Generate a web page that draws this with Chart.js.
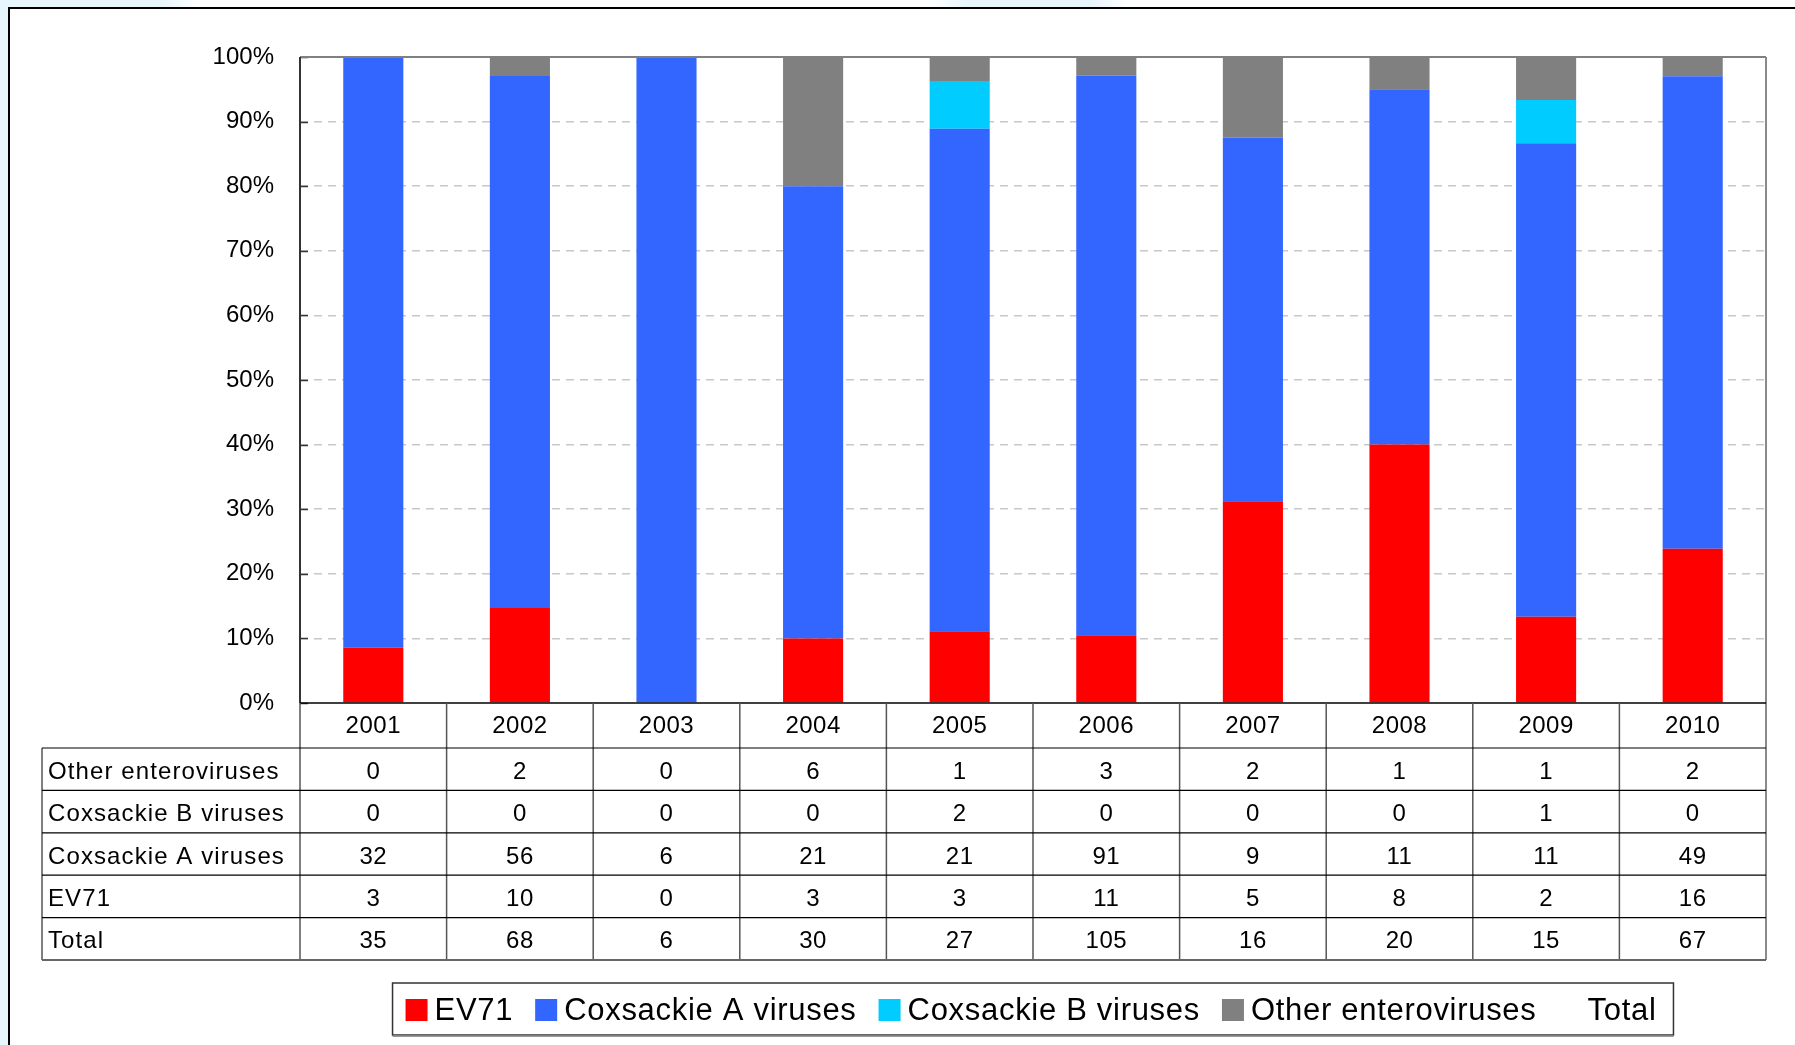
<!DOCTYPE html>
<html>
<head>
<meta charset="utf-8">
<script src="https://cdn.jsdelivr.net/npm/chart.js@4.4.1/dist/chart.umd.min.js"></script>
<style>
  html, body { margin: 0; padding: 0; }
  body { width: 1795px; height: 1045px; overflow: hidden; position: relative; background: #e7f5fc; }
  #topband {
    position: absolute; left: 0; top: 0; width: 1795px; height: 8px;
    background: linear-gradient(90deg, #e7f5fc 0, #e7f5fc 160px, #fff 200px, #fff 930px,
      #e7f5fc 970px, #e7f5fc 1090px, #fff 1130px);
  }
  #frame {
    position: absolute; left: 8px; top: 7px; width: 1800px; height: 1050px;
    background: #fff; border-left: 2px solid #000; border-top: 2px solid #000;
  }
  #wrap { position: absolute; left: 0; top: 0; width: 1795px; height: 1045px; }
</style>
</head>
<body>
<div id="topband"></div>
<div id="frame"></div>
<div id="wrap"><canvas id="virus-canvas" width="1795" height="1045"></canvas></div>
<script>
const FONT = "'Liberation Sans', Arial, sans-serif"

// Isolates per year
const years = ["2001", "2002", "2003", "2004", "2005", "2006", "2007", "2008", "2009", "2010"]
const ev71 = [3, 10, 0, 3, 3, 11, 5, 8, 2, 16]
const coxsackieA = [32, 56, 6, 21, 21, 91, 9, 11, 11, 49]
const coxsackieB = [0, 0, 0, 0, 2, 0, 0, 0, 1, 0]
const otherEntero = [0, 2, 0, 6, 1, 3, 2, 1, 1, 2]
const totals = [35, 68, 6, 30, 27, 105, 16, 20, 15, 67]

// share of the year's total, in percent
const share = (arr) => arr.map((v, i) => (totals[i] ? (v / totals[i]) * 100 : 0))

// rows of the table under the axis, top to bottom
const tableRows = [
  { label: "Other enteroviruses", values: otherEntero },
  { label: "Coxsackie B viruses", values: coxsackieB },
  { label: "Coxsackie A viruses", values: coxsackieA },
  { label: "EV71", values: ev71 },
  { label: "Total", values: totals },
]

const HEAD_H = 45
const ROW_H = 42.4
const TABLE_LEFT = 42

const dataTable = {
  id: "dataTable",
  afterDraw(chart) {
    const { ctx, chartArea: a, scales: { x, y } } = chart
    const colW = x.getPixelForValue(1) - x.getPixelForValue(0)
    const headBottom = a.bottom + HEAD_H
    const tableBottom = headBottom + ROW_H * tableRows.length

    ctx.save()

    // small inward ticks on the value axis
    ctx.strokeStyle = "#333"
    ctx.lineWidth = 1.5
    for (let v = 0; v <= 100; v += 10) {
      const py = Math.round(y.getPixelForValue(v)) + 0.5
      ctx.beginPath()
      ctx.moveTo(a.left, py)
      ctx.lineTo(a.left + 8, py)
      ctx.stroke()
    }

    // plot frame
    ctx.lineWidth = 2
    ctx.strokeStyle = "#808080"
    ctx.beginPath()
    ctx.moveTo(a.left, a.top)
    ctx.lineTo(a.right, a.top)
    ctx.stroke()
    ctx.strokeStyle = "#8a8a8a"
    ctx.beginPath()
    ctx.moveTo(a.right, a.top)
    ctx.lineTo(a.right, tableBottom)
    ctx.stroke()
    ctx.strokeStyle = "#333"
    ctx.beginPath()
    ctx.moveTo(a.left, a.top)
    ctx.lineTo(a.left, a.bottom)
    ctx.stroke()
    ctx.strokeStyle = "#000"
    ctx.lineWidth = 1.5
    ctx.beginPath()
    ctx.moveTo(a.left, a.bottom)
    ctx.lineTo(a.right, a.bottom)
    ctx.stroke()

    // table grid
    ctx.strokeStyle = "#555"
    ctx.lineWidth = 1.5
    for (let i = 0; i < years.length; i++) {
      const lx = x.getPixelForValue(i) - colW / 2
      ctx.beginPath()
      ctx.moveTo(lx, a.bottom)
      ctx.lineTo(lx, tableBottom)
      ctx.stroke()
    }
    ctx.beginPath()
    ctx.moveTo(TABLE_LEFT, headBottom)
    ctx.lineTo(TABLE_LEFT, tableBottom)
    ctx.stroke()
    ctx.strokeStyle = "#000"
    ctx.lineWidth = 1.2
    for (let r = 0; r < tableRows.length; r++) {
      const ly = headBottom + r * ROW_H
      ctx.beginPath()
      ctx.moveTo(TABLE_LEFT, ly)
      ctx.lineTo(a.right, ly)
      ctx.stroke()
    }
    ctx.strokeStyle = "#666"
    ctx.lineWidth = 2
    ctx.beginPath()
    ctx.moveTo(TABLE_LEFT, tableBottom)
    ctx.lineTo(a.right, tableBottom)
    ctx.stroke()

    // header and cells
    ctx.fillStyle = "#000"
    ctx.textBaseline = "middle"
    ctx.font = "24px " + FONT
    ctx.letterSpacing = "0.5px"
    ctx.textAlign = "center"
    years.forEach((yr, i) => {
      ctx.fillText(yr, x.getPixelForValue(i), a.bottom + HEAD_H / 2 + 1)
    })
    tableRows.forEach((row, r) => {
      const cy = headBottom + r * ROW_H + ROW_H / 2 + 3
      row.values.forEach((v, i) => ctx.fillText(String(v), x.getPixelForValue(i), cy))
    })
    ctx.textAlign = "left"
    ctx.letterSpacing = "1.1px"
    tableRows.forEach((row, r) => {
      ctx.fillText(row.label, TABLE_LEFT + 6, headBottom + r * ROW_H + ROW_H / 2 + 3)
    })
    ctx.restore()
  },
}

const boxLegend = {
  id: "boxLegend",
  afterDraw(chart) {
    const { ctx, chartArea: a } = chart
    const sw = 22, gapText = 7, gapItem = 22, padL = 13, padR = 17
    const top = 983, h = 52
    ctx.save()
    ctx.font = "31px " + FONT
    ctx.letterSpacing = "0.7px"
    const items = chart.data.datasets.map((ds) => ({
      label: ds.label,
      color: ds.backgroundColor,
      w: ctx.measureText(ds.label).width,
    }))
    let width = padL + padR
    items.forEach((it, k) => { width += sw + gapText + it.w + (k ? gapItem : 0) })
    const left = (a.left + a.right) / 2 - width / 2

    ctx.fillStyle = "#fff"
    ctx.fillRect(left, top, width, h)
    ctx.strokeStyle = "#333"
    ctx.lineWidth = 1.5
    ctx.strokeRect(left, top, width, h)
    ctx.strokeStyle = "#999"
    ctx.lineWidth = 1.5
    ctx.beginPath()
    ctx.moveTo(left, top + h + 1.2)
    ctx.lineTo(left + width, top + h + 1.2)
    ctx.stroke()

    let cx = left + padL
    const mid = top + h / 2
    ctx.textBaseline = "middle"
    ctx.textAlign = "left"
    items.forEach((it) => {
      ctx.fillStyle = it.color
      ctx.fillRect(cx, mid - sw / 2 + 1, sw, sw)
      ctx.fillStyle = "#000"
      ctx.fillText(it.label, cx + sw + gapText, mid + 2)
      cx += sw + gapText + it.w + gapItem
    })
    ctx.restore()
  },
}

const barOpts = { barPercentage: 0.41, categoryPercentage: 1 }

new Chart(document.getElementById("virus-canvas"), {
  type: "bar",
  data: {
    labels: years,
    datasets: [
      { label: "EV71", data: share(ev71), backgroundColor: "#ff0000", ...barOpts },
      { label: "Coxsackie A viruses", data: share(coxsackieA), backgroundColor: "#3366ff", ...barOpts },
      { label: "Coxsackie B viruses", data: share(coxsackieB), backgroundColor: "#00ccff", ...barOpts },
      { label: "Other enteroviruses", data: share(otherEntero), backgroundColor: "#808080", ...barOpts },
      { label: "Total", data: [], backgroundColor: "rgba(0,0,0,0)", ...barOpts },
    ],
  },
  options: {
    responsive: false,
    animation: false,
    devicePixelRatio: 1,
    layout: { padding: { left: 0, right: 29, top: 57, bottom: 85 } },
    plugins: {
      legend: { display: false },
      tooltip: { enabled: false },
    },
    scales: {
      x: {
        stacked: true,
        ticks: { display: false },
        grid: { display: false },
        border: { display: false },
        afterFit: (s) => { s.height = HEAD_H + ROW_H * tableRows.length },
      },
      y: {
        stacked: true,
        min: 0,
        max: 100,
        afterFit: (s) => { s.width = 300 },
        ticks: {
          stepSize: 10,
          padding: 26,
          color: "#000",
          font: { family: FONT, size: 24 },
          callback: (v) => v + "%",
        },
        grid: {
          drawTicks: false,
          lineWidth: 1.5,
          color: (c) => (c.tick.value === 0 || c.tick.value === 100 ? "rgba(0,0,0,0)" : "#c8c8c8"),
        },
        border: { display: false, dash: [8, 6] },
      },
    },
  },
  plugins: [dataTable, boxLegend],
})
</script>
</body>
</html>
